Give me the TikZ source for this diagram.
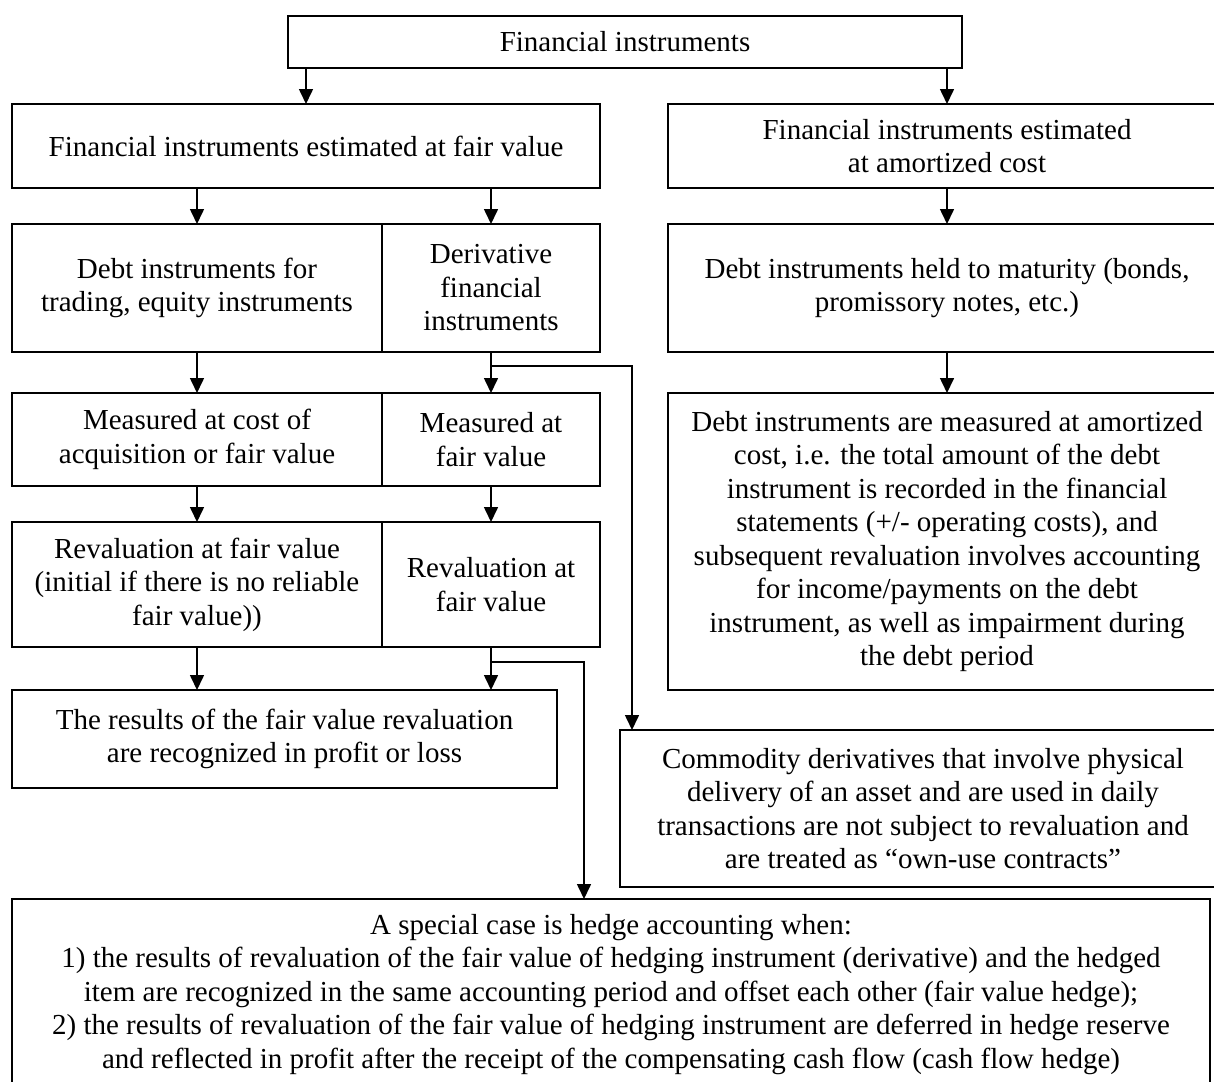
\documentclass[tikz,border=0pt]{standalone}
\usepackage{fontspec}
\setmainfont{Liberation Serif}
\usetikzlibrary{arrows.meta,positioning}

\begin{document}
\begin{tikzpicture}[x=1pt,y=-1pt,
    box/.style={draw, line width=1.2pt, align=center, inner sep=0pt, outer sep=0pt,
        anchor=north west, font=\fontsize{29}{33.5}\selectfont},
    arr/.style={-{Triangle[length=15pt,width=14pt]}, line width=1.6pt}]
\useasboundingbox (0,0) rectangle (1214,1081);
% top level
\node[box, minimum width=674pt, minimum height=52pt] (fi) at (288,16) {Financial instruments};
\node[box, minimum width=588pt, minimum height=84pt] (fv) at (12,104)
    {Financial instruments estimated at fair value};
\node[box, minimum width=558pt, minimum height=84pt] (ac) at (668,104)
    {Financial instruments estimated\\at amortized cost};
% fair value column
\node[box, minimum width=370pt, minimum height=128pt] (debt) at (12,224)
    {Debt instruments for\\trading, equity instruments};
\node[box, minimum width=218pt, minimum height=128pt, right=0pt of debt] (deriv)
    {Derivative\\financial\\instruments};
\node[box, minimum width=370pt, minimum height=93pt] (meas) at (12,393)
    {Measured at cost of\\acquisition or fair value};
\node[box, minimum width=218pt, minimum height=93pt, right=0pt of meas] (measfv)
    {Measured at\\fair value};
\node[box, minimum width=370pt, minimum height=125pt] (reval) at (12,522)
    {Revaluation at fair value\\(initial if there is no reliable\\fair value))};
\node[box, minimum width=218pt, minimum height=125pt, right=0pt of reval] (revalfv)
    {Revaluation at\\fair value};
\node[box, minimum width=545pt, minimum height=98pt] (res) at (12,690)
    {The results of the fair value revaluation\\are recognized in profit or loss};
% amortized cost column
\node[box, minimum width=558pt, minimum height=128pt] (htm) at (668,224)
    {Debt instruments held to maturity (bonds,\\promissory notes, etc.)};
\node[box, minimum width=558pt, minimum height=297pt] (amort) at (668,393)
    {Debt instruments are measured at amortized\\cost, i.e. the total amount of the debt\\
     instrument is recorded in the financial\\statements (+/- operating costs), and\\
     subsequent revaluation involves accounting\\for income/payments on the debt\\
     instrument, as well as impairment during\\the debt period};
\node[box, minimum width=606pt, minimum height=157pt] (comm) at (620,730)
    {Commodity derivatives that involve physical\\delivery of an asset and are used in daily\\
     transactions are not subject to revaluation and\\are treated as “own-use contracts”};
\node[box, minimum width=1198pt, minimum height=191pt] (hedge) at (12,899)
    {A special case is hedge accounting when:\\
     1) the results of revaluation of the fair value of hedging instrument (derivative) and the hedged\\
     item are recognized in the same accounting period and offset each other (fair value hedge);\\
     2) the results of revaluation of the fair value of hedging instrument are deferred in hedge reserve\\
     and reflected in profit after the receipt of the compensating cash flow (cash flow hedge)};

% connectors
\coordinate (fi1) at ([xshift=18pt]fi.south west);
\draw[arr] (fi1) -- (fi1 |- fv.north);
\draw[arr] (ac.north |- fi.south) -- (ac.north);
\draw[arr] (debt.north |- fv.south) -- (debt.north);
\draw[arr] (deriv.north |- fv.south) -- (deriv.north);
\path[arr] (ac) edge (htm)
    (htm) edge (amort)
    (debt) edge (meas)
    (deriv) edge (measfv)
    (meas) edge (reval)
    (measfv) edge (revalfv);
\draw[arr] (reval.south) -- (reval.south |- res.north);
\draw[arr] (revalfv.south) -- (revalfv.south |- res.north);
\draw[arr] (deriv.south) -- ++(0,14) -| ([xshift=12pt]comm.north west);
\draw[arr] (revalfv.south) -- ++(0,15) -| ([xshift=572pt]hedge.north west);
\end{tikzpicture}
\end{document}
